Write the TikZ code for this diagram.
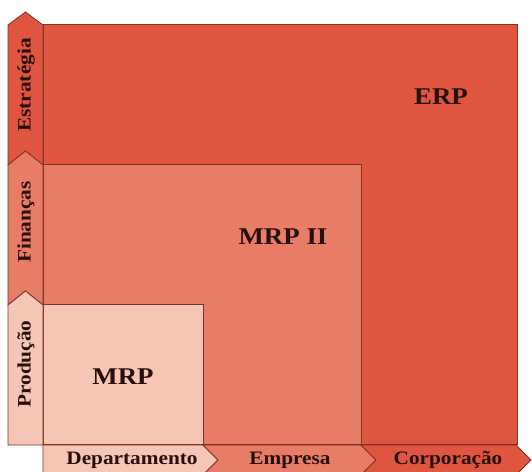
\documentclass[tikz,border=0pt]{standalone}
\usepackage{fontspec}
\setmainfont{Liberation Serif}
\newfontfamily\largafont[FakeStretch=1.12]{Liberation Serif}
\usepackage{tikz}
\usetikzlibrary{positioning}
\definecolor{ERPvermelho}{HTML}{E05540}
\definecolor{MRPIImedio}{HTML}{E97C67}
\definecolor{MRPclaro}{HTML}{F5C6B6}
\definecolor{Borda}{HTML}{7E3224}
\definecolor{Texto}{HTML}{26100A}
\tikzstyle{nivel} = [rectangle, 
anchor=south west, 
draw=Borda, 
line width=0.8pt, 
inner sep=0pt]
\tikzstyle{seta} = [draw=Borda, 
line width=0.8pt, 
line join=miter]
\tikzstyle{sistema} = [text=Texto, 
font=\largafont\fontsize{24}{28}\selectfont\bfseries]
\tikzstyle{rotulo} = [text=Texto, 
inner sep=0pt, 
font=\largafont\fontsize{19}{22}\selectfont\bfseries]

\begin{document}
\begin{tikzpicture}[x=1pt, y=1pt]
                \useasboundingbox (0,0) rectangle (532,471);
                \node[nivel, fill=ERPvermelho, minimum width=474pt, minimum height=420pt] (erp) at (43,26) {};
                \node[nivel, fill=MRPIImedio, minimum width=318pt, minimum height=280pt] (mrpii) at (43,26) {};
                \node[nivel, fill=MRPclaro, minimum width=160pt, minimum height=140pt] (mrp) at (43,26) {};

                \draw[seta, fill=ERPvermelho] (8,446) -- (25.5,459) -- (43,446) -- (43,306) -- (25.5,320) -- (8,306) -- cycle;
                \draw[seta, fill=MRPIImedio] (8,306) -- (25.5,320) -- (43,306) -- (43,166) -- (25.5,180) -- (8,166) -- cycle;
                \draw[seta, fill=MRPclaro] (8,166) -- (25.5,180) -- (43,166) -- (43,26) -- (8,26) -- cycle;

                \draw[seta, fill=MRPclaro] (43,26) -- (203,26) -- (218,11) -- (203,-4) -- (43,-4) -- cycle;
                \draw[seta, fill=MRPIImedio] (203,26) -- (361,26) -- (376,11) -- (361,-4) -- (203,-4) -- (218,11) -- cycle;
                \draw[seta, fill=ERPvermelho] (361,26) -- (516,26) -- (531,11) -- (516,-4) -- (361,-4) -- (376,11) -- cycle;

                \node[sistema] (txterp) at (441,374) {ERP};
                \node[sistema] (txtmrpii) at (283,234) {MRP II};
                \node[sistema] (txtmrp) at (123,94) {MRP};

                \node[rotulo, rotate=90] (estrategia) at (26,386) {Estratégia};
                \node[rotulo, rotate=90] (financas) at (26,249) {Finanças};
                \node[rotulo, rotate=90] (producao) at (26,107) {Produção};

                \node[rotulo] (departamento) at (132,11) {Departamento};
                \node[rotulo] (empresa) at (290,11) {Empresa};
                \node[rotulo] (corporacao) at (448,11) {Corporação};
            \end{tikzpicture}
\end{document}
